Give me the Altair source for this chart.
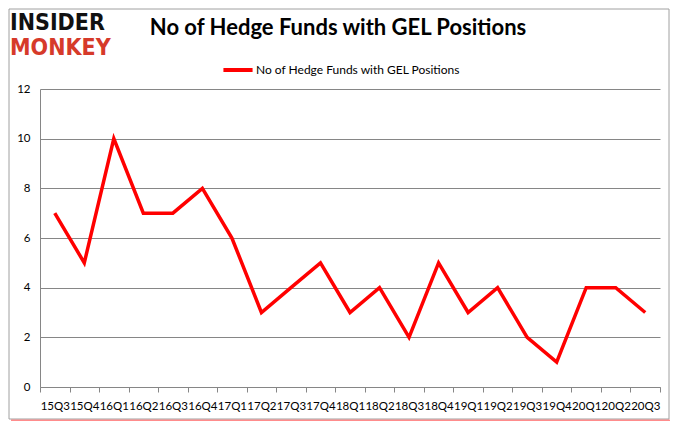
import altair as alt
import pandas as pd

quarters = ["15Q3", "15Q4", "16Q1", "16Q2", "16Q3", "16Q4", "17Q1", "17Q2", "17Q3", "17Q4",
            "18Q1", "18Q2", "18Q3", "18Q4", "19Q1", "19Q2", "19Q3", "19Q4", "20Q1", "20Q2", "20Q3"]
values = [7, 5, 10, 7, 7, 8, 6, 3, 4, 5, 3, 4, 2, 5, 3, 4, 2, 1, 4, 4, 3]
series_name = "No of Hedge Funds with GEL Positions"
title_text = ["No of Hedge Funds with GEL Positions"]
logo_top = ["INSIDER"]
logo_bottom = ["MONKEY"]

df = pd.DataFrame({"quarter": quarters, "value": values, "series": series_name})

FONT = "Lato"
W, H = 620, 298

line = alt.Chart(df).mark_line(strokeWidth=3.5, strokeJoin="miter", clip=False).encode(
    x=alt.X("quarter:N", sort=quarters,
            scale=alt.Scale(type="band", paddingInner=0, paddingOuter=0),
            axis=alt.Axis(title=None, labelAngle=0, tickBand="extent", grid=False,
                          domainColor="#868686", tickColor="#868686", tickSize=5,
                          labelFont=FONT, labelFontSize=11.5, labelColor="#000000",
                          labelPadding=8, labelOverlap=False, labelBound=False, labelFlush=False)),
    y=alt.Y("value:Q", scale=alt.Scale(domain=[0, 12], nice=False),
            axis=alt.Axis(title=None, values=[0, 2, 4, 6, 8, 10, 12], grid=True,
                          gridColor="#868686", domainColor="#868686", ticks=False,
                          labelFont=FONT, labelFontSize=11.5, labelColor="#000000",
                          labelPadding=10)),
    color=alt.Color("series:N",
                    scale=alt.Scale(domain=[series_name], range=["#ff0000"]),
                    legend=alt.Legend(title=None, orient="none", legendX=181, legendY=-36,
                                      symbolType="stroke", symbolStrokeWidth=4, symbolSize=850,
                                      labelFont=FONT, labelFontSize=12, labelColor="#000000",
                                      labelOffset=1, labelLimit=400)),
)

title = alt.Chart(pd.DataFrame({"t": title_text})).mark_text(
    font=FONT, fontWeight="bold", fontSize=22, color="#000000",
    align="center", baseline="alphabetic").encode(
    text="t:N", x=alt.value(298), y=alt.value(-54))

logo1 = alt.Chart(pd.DataFrame({"t": logo_top})).mark_text(
    font="DejaVu Sans Condensed", fontWeight="bold", fontSize=23, color="#111111",
    align="left", baseline="alphabetic").encode(
    text="t:N", x=alt.value(-30), y=alt.value(-59))
logo2 = alt.Chart(pd.DataFrame({"t": logo_bottom})).mark_text(
    font="DejaVu Sans Condensed", fontWeight="bold", fontSize=23, color="#d63a2a",
    align="left", baseline="alphabetic").encode(
    text="t:N", x=alt.value(-30), y=alt.value(-34))

frame = alt.Chart(pd.DataFrame({"t": [0]})).mark_rect(
    fill=None, stroke="#a0a0a0", strokeWidth=1).encode(
    x=alt.value(-31), x2=alt.value(629), y=alt.value(-80), y2=alt.value(330))
shadow = alt.Chart(pd.DataFrame({"t": [0]})).mark_rule(
    stroke="#ff4040", strokeWidth=3, opacity=0.6).encode(
    x=alt.value(-29), x2=alt.value(630), y=alt.value(332))

chart = alt.layer(frame, shadow, line, title, logo1, logo2).properties(
    width=W, height=H,
    autosize=alt.AutoSizeParams(type="none"),
    padding={"left": 32, "top": 81, "right": 10, "bottom": 34},
).configure_view(stroke=None)

chart.save("out.html", embed_options={"renderer": "svg", "actions": False})
